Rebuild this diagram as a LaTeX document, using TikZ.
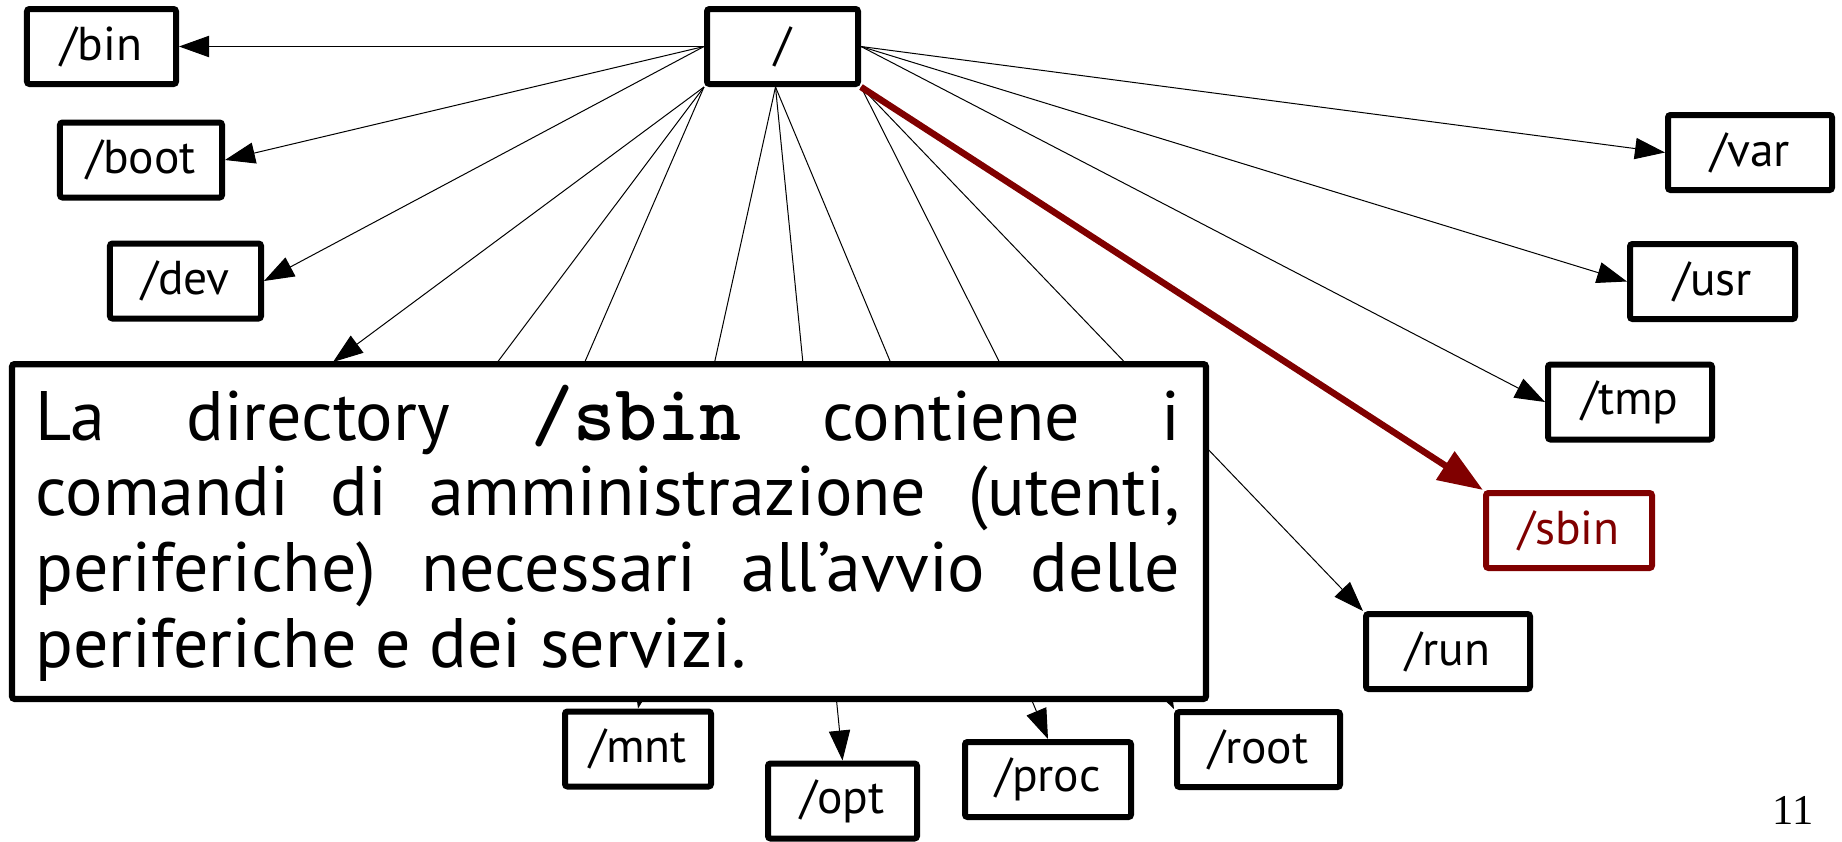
\documentclass[tikz,border=0pt]{standalone}
\usepackage{fontspec}
\setmainfont{PT Sans}
\newfontfamily\pagenumfont{Liberation Serif}
\usetikzlibrary{arrows.meta}
\definecolor{sbinred}{RGB}{128,0,0}

\begin{document}
\begin{tikzpicture}[x=0.4pt,y=-0.4pt,
  dirbox/.style={draw, line width=2.4pt, rounded corners=1pt, fill=white,
    minimum height=30pt, inner sep=0pt, font=\fontsize{19}{23}\selectfont},
  link/.style={line width=0.4pt, -{Triangle[length=12pt,width=8.5pt]}},
  hot/.style={draw=sbinred, text=sbinred},
  hotlink/.style={draw=sbinred, line width=2.6pt,
    -{Triangle[length=18pt,width=13pt,fill=sbinred]}},
  note/.style={draw, line width=2.5pt, fill=white, rounded corners=1pt, inner sep=0pt},
  notetextstyle/.style={inner sep=0pt, font=\fontsize{28}{30.3}\selectfont},
  pagenum/.style={inner sep=0pt, font=\pagenumfont\fontsize{17}{20}\selectfont},
]
\useasboundingbox (0,0) rectangle (1842,841);

% directory tree
\node[dirbox, minimum width=60.4pt] (top) at (782.5,46.5) {/};
\node[dirbox, minimum width=59.6pt] (bin) at (101.5,46.5) {/bin};
\node[dirbox, minimum width=64.8pt] (boot) at (141,160) {/boot};
\node[dirbox, minimum width=60.4pt] (dev) at (185.5,281) {/dev};
\node[dirbox, minimum width=65.6pt] (var) at (1750,152.5) {/var};
\node[dirbox, minimum width=66pt] (usr) at (1712.5,281.5) {/usr};
\node[dirbox, minimum width=65.6pt] (tmp) at (1630,402) {/tmp};
\node[dirbox, hot, minimum width=66.4pt] (sbin) at (1569,530.5) {/sbin};
\node[dirbox, minimum width=65.6pt] (run) at (1448,651.5) {/run};
\node[dirbox, minimum width=65.2pt] (rootdir) at (1258.5,749.5) {/root};
\node[dirbox, minimum width=66.4pt] (proc) at (1048,779.5) {/proc};
\node[dirbox, minimum width=59.6pt] (opt) at (842.5,801) {/opt};
\node[dirbox, minimum width=58.4pt] (mnt) at (638,749) {/mnt};

% branches that end below the note
\coordinate (hidA) at (333,362);
\coordinate (hidB) at (394,500);
\coordinate (hidC) at (525,500);
\coordinate (topmid) at ([xshift=-2.8pt]top.south);

\draw[link] (top.west) -- (bin.east);
\draw[link] (top.west) -- (boot.east);
\draw[link] (top.west) -- (dev.east);
\draw[link] (top.south west) -- (hidA);
\draw[link] (top.south west) -- (hidB);
\draw[link] (top.south west) -- (hidC);
\draw[link] (topmid) -- (mnt.north);
\draw[link] (topmid) -- (opt.north);
\draw[link] (topmid) -- (proc.north);
\draw[link] (top.south east) -- (rootdir.north west);
\draw[link] (top.south east) -- (run.north west);
\draw[link] (top.east) -- (tmp.west);
\draw[link] (top.east) -- (usr.west);
\draw[link] (top.east) -- (var.west);
\draw[hotlink] (top.south east) -- (sbin.north west);

% explanatory note
\node[note, minimum width=477.5pt, minimum height=133.9pt] (note) at (609,531.5) {};
\node[notetextstyle, anchor=base west] (notetext) at (35,440)
  {\parbox[t]{458pt}{\hyphenpenalty=10000\tolerance=10000
   La directory {\ttfamily\bfseries\fontsize{32}{30.3}\selectfont /sbin} contiene i\linebreak
   comandi di amministrazione (utenti,\linebreak
   periferiche) necessari all’avvio delle\linebreak
   periferiche e dei servizi.}};

\node[pagenum] (pnum) at (1793,810) {11};
\end{tikzpicture}
\end{document}
